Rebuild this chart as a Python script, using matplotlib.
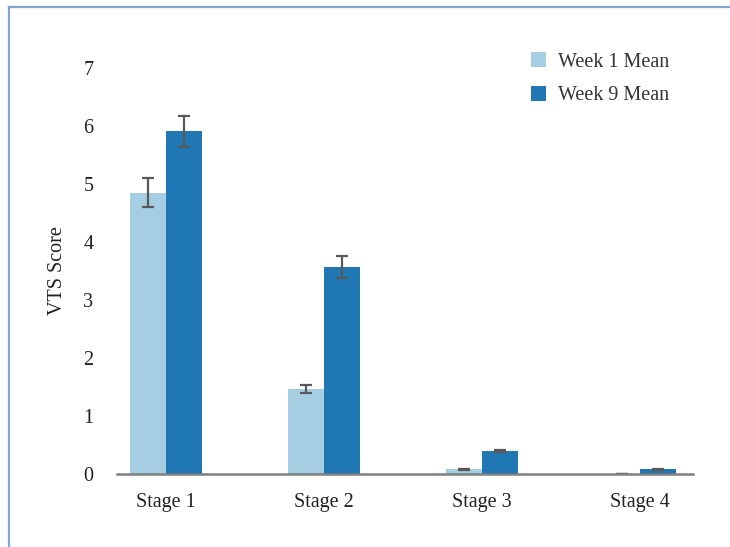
import matplotlib
matplotlib.use("Agg")
import matplotlib.pyplot as plt
from matplotlib.lines import Line2D
import numpy as np

stages = ["Stage 1", "Stage 2", "Stage 3", "Stage 4"]
week1_mean = [4.85, 1.46, 0.08, 0.0]
week1_err = [0.25, 0.07, 0.01, 0.0]
week9_mean = [5.91, 3.57, 0.40, 0.08]
week9_err = [0.27, 0.19, 0.02, 0.01]
series_labels = ["Week 1 Mean", "Week 9 Mean"]
y_ticks = [0, 1, 2, 3, 4, 5, 6, 7]

plt.rcParams["font.family"] = ["Liberation Serif", "DejaVu Serif"]

fig = plt.figure(figsize=(7.30, 5.47), dpi=100)
ax = fig.add_axes([117 / 730, 1 - 474 / 547, (693 - 117) / 730, (474 - 68) / 547])

x = np.arange(len(stages))
w = 0.225
err_kw = dict(ecolor="#595959", elinewidth=1.6, capsize=4, capthick=1.6)
ax.bar(x - w / 2, week1_mean, w, yerr=week1_err, color="#A6CEE3",
       label=series_labels[0], error_kw=err_kw, zorder=2)
ax.bar(x + w / 2, week9_mean, w, yerr=week9_err, color="#1F78B4",
       label=series_labels[1], error_kw=err_kw, zorder=2)

ax.set_xlim(-0.31, 3.335)
ax.set_ylim(0, 7)
ax.set_yticks(y_ticks)
ax.set_xticks(x)
ax.set_xticklabels(stages)
ax.tick_params(axis="both", length=0, labelsize=14.5, colors="#222222")
ax.tick_params(axis="y", pad=17)
ax.tick_params(axis="x", pad=14)
for side in ["top", "right", "left"]:
    ax.spines[side].set_visible(False)
ax.spines["bottom"].set_color("#7f7f7f")
ax.spines["bottom"].set_linewidth(1.8)
ax.set_ylabel("VTS Score", fontsize=14.5, color="#222222", labelpad=12)

leg = ax.legend(loc="upper right", bbox_to_anchor=(0.99, 1.083), frameon=False,
                fontsize=14.5, handlelength=0.75, handleheight=0.75,
                labelspacing=0.7, handletextpad=0.6)
for t in leg.get_texts():
    t.set_color("#333333")

# outer frame lines along the top and left edges
fig.add_artist(Line2D([9 / 730, 1], [1 - 7 / 547, 1 - 7 / 547],
                      transform=fig.transFigure, color="#86A4D3", lw=1.6))
fig.add_artist(Line2D([9 / 730, 9 / 730], [0, 1 - 7 / 547],
                      transform=fig.transFigure, color="#86A4D3", lw=1.6))

fig.savefig("out.png", dpi=100, facecolor="white")
